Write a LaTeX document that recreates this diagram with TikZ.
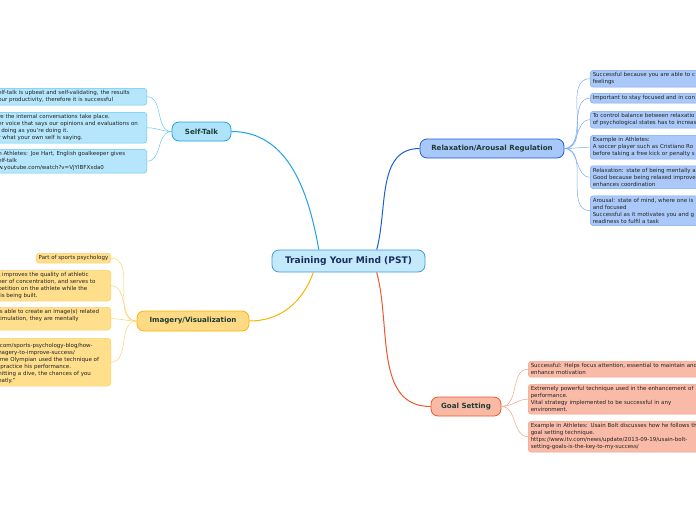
\documentclass[tikz,border=0pt]{standalone}
\usepackage{fontspec}
\setmainfont{DejaVu Sans}
\definecolor{rootfill}{HTML}{C4E9FB}
\definecolor{rootline}{HTML}{3A9AD9}
\definecolor{roottext}{HTML}{1B2D5E}
\definecolor{stfill}{HTML}{AEE3FA}
\definecolor{stline}{HTML}{1EA2E0}
\definecolor{stleaf}{HTML}{B5E6FB}
\definecolor{stleafline}{HTML}{66C7F0}
\definecolor{rlfill}{HTML}{A8C8FA}
\definecolor{rlline}{HTML}{1C5ED6}
\definecolor{rlleaf}{HTML}{AAC9F9}
\definecolor{rlleafline}{HTML}{7CA9F2}
\definecolor{imfill}{HTML}{FFDA85}
\definecolor{imline}{HTML}{F7B500}
\definecolor{imleaf}{HTML}{FFDE8C}
\definecolor{imleafline}{HTML}{FCD26C}
\definecolor{gsfill}{HTML}{F8B9A5}
\definecolor{gsline}{HTML}{EA582C}
\definecolor{gsleaf}{HTML}{F9BBA7}
\definecolor{gsleafline}{HTML}{F3A285}
\definecolor{topictext}{HTML}{1E3C34}
\definecolor{leaftext}{HTML}{222222}
\tikzset{
	topic/.style={draw, line width=.8pt, rounded corners=7pt, inner sep=0pt,
		font=\fontsize{7.1}{8}\selectfont\bfseries, text=topictext},
	leaf/.style={draw, line width=.5pt, rounded corners=3pt, inner xsep=2.5pt, inner ysep=2.3pt,
		align=left, font=\fontsize{5.5}{7}\selectfont, text=leaftext},
	bough/.style={line width=1pt},
	twig/.style={line width=.5pt}
}
\begin{document}
\begin{tikzpicture}[x=1pt,y=1pt]
	\useasboundingbox (0,0) rectangle (696,-520);
	\clip (0,0) rectangle (696,-520);
	% centre
	\node[name=root, topic, fill=rootfill, draw=rootline, text=roottext, minimum width=153pt, minimum height=22pt,
		font=\fontsize{9.1}{10}\selectfont\bfseries] at (348.5,-261) {Training Your Mind (PST)};
	% main topics
	\node[name=st, topic, fill=stfill, draw=stline, minimum width=59pt, minimum height=19pt] at (201.5,-131.5) {Self-Talk};
	\node[name=rl, topic, fill=rlfill, draw=rlline, minimum width=144pt, minimum height=19pt] at (492,-148.5) {Relaxation/Arousal Regulation};
	\node[name=im, topic, fill=imfill, draw=imline, minimum width=112pt, minimum height=20pt] at (193,-321) {Imagery/Visualization};
	\node[name=gs, topic, fill=gsfill, draw=gsline, minimum width=70pt, minimum height=19pt] at (466,-406.5) {Goal Setting};
	\draw[bough, stline] (root.159) to[out=100,in=0] (st.east);
	\draw[bough, rlline] (root.22) to[out=75,in=180] (rl.west);
	\draw[bough, imline] (root.198) to[out=250,in=0] (im.east);
	\draw[bough, gsline] (root.338) to[out=285,in=180] (gs.west);
	% self-talk
	\node[name=st1, leaf, fill=stleaf, draw=stleafline, anchor=north east, text width=146pt] at (147,-88)
		{elf-talk is upbeat and self-validating, the results\\our productivity, therefore it is successful};
	\node[name=st2, leaf, fill=stleaf, draw=stleafline, anchor=north east, text width=146pt] at (147,-112)
		{re the internal conversations take place.\\er voice that says our opinions and evaluations on\\\hspace*{3pt}doing as you're doing it.\\r what your own self is saying.};
	\node[name=st3, leaf, fill=stleaf, draw=stleafline, anchor=north east, text width=146pt] at (147,-149)
		{n Athletes: Joe Hart, English goalkeeper gives\\elf-talk\\w.youtube.com/watch?v=VjYIBFXxda0};
	\foreach \n in {st1,st2,st3}
	\draw[twig, stleafline] (st.west) to[out=180,in=0] (\n.east);
	% relaxation
	\node[name=rl1, leaf, fill=rlleaf, draw=rlleafline, anchor=north west, text width=200pt] at (590,-70)
		{Successful because you are able to c\\feelings};
	\node[name=rl2, leaf, fill=rlleaf, draw=rlleafline, anchor=north west, text width=200pt] at (590,-93)
		{Important to stay focused and in con};
	\node[name=rl3, leaf, fill=rlleaf, draw=rlleafline, anchor=north west, text width=200pt] at (590,-111)
		{To control balance between relaxatio\\of psychological states has to increas};
	\node[name=rl4, leaf, fill=rlleaf, draw=rlleafline, anchor=north west, text width=200pt] at (590,-135)
		{Example in Athletes:\\A soccer player such as Cristiano Ro\\before taking a free kick or penalty s};
	\node[name=rl5, leaf, fill=rlleaf, draw=rlleafline, anchor=north west, text width=200pt] at (590,-165.5)
		{Relaxation: state of being mentally a\\Good because being relaxed improve\\enhances coordination};
	\node[name=rl6, leaf, fill=rlleaf, draw=rlleafline, anchor=north west, text width=200pt] at (590,-195.5)
		{Arousal: state of mind, where one is\\and focused\\Successful as it motivates you and g\\readiness to fulfil a task};
	\foreach \n in {rl1,rl2,rl3,rl4,rl5,rl6}
	\draw[twig, rlleafline] (rl.east) to[out=0,in=180] (\n.west);
	% imagery
	\node[name=im1, leaf, fill=imleaf, draw=imleafline, anchor=north east] at (111,-253)
		{Part of sports psychology};
	\node[name=im2, leaf, fill=imleaf, draw=imleafline, anchor=north east, text width=110pt] at (111,-270)
		{t improves the quality of athletic\\eer of concentration, and serves to\\petition on the athlete while the\\\hspace*{2pt}is being built.};
	\node[name=im3, leaf, fill=imleaf, draw=imleafline, anchor=north east, text width=110pt] at (111,-307)
		{is able to create an image(s) related\\timulation, they are mentally\\\mbox{}};
	\node[name=im4, leaf, fill=imleaf, draw=imleafline, anchor=north east, text width=110pt] at (111,-338)
		{\mbox{}\\.com/sports-psychology-blog/how-\\nagery-to-improve-success/\\ime Olympian used the technique of\\\hspace*{2pt}practice his performance.\\hitting a dive, the chances of you\\eatly."};
	\foreach \n in {im1,im2,im3,im4}
	\draw[twig, imleafline] (im.west) to[out=180,in=0] (\n.east);
	% goal setting
	\node[name=gs1, leaf, fill=gsleaf, draw=gsleafline, anchor=north west, text width=200pt] at (528,-361)
		{Successful: Helps focus attention, essential to maintain and\\enhance motivation};
	\node[name=gs2, leaf, fill=gsleaf, draw=gsleafline, anchor=north west, text width=200pt] at (528,-384)
		{Extremely powerful technique used in the enhancement of\\performance.\\Vital strategy implemented to be successful in any\\environment.};
	\node[name=gs3, leaf, fill=gsleaf, draw=gsleafline, anchor=north west, text width=200pt] at (528,-421)
		{Example in Athletes: Usain Bolt discusses how he follows th\\goal setting technique.\\https://www.itv.com/news/update/2013-09-19/usain-bolt-\\setting-goals-is-the-key-to-my-success/};
	\foreach \n in {gs1,gs2,gs3}
	\draw[twig, gsleafline] (gs.east) to[out=0,in=180] (\n.west);
\end{tikzpicture}
\end{document}
